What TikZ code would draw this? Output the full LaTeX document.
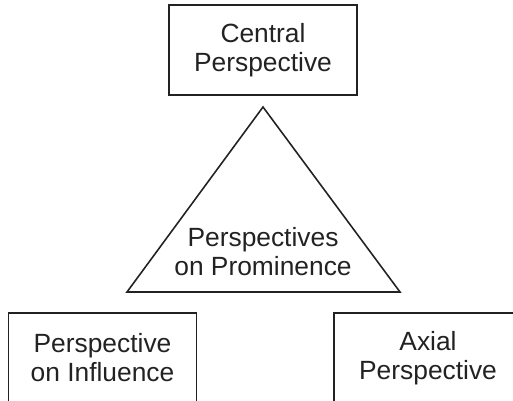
\documentclass[tikz,border=0pt]{standalone}
\usepackage{fontspec}
\setmainfont{Liberation Sans}
\usetikzlibrary{positioning}
\definecolor{PerspInk}{HTML}{222222}

\begin{document}
\begin{tikzpicture}[
  perspbox/.style={draw=PerspInk,line width=.9pt,minimum width=3.76cm,minimum height=1.8cm,align=center,font=\fontsize{15}{16.5}\selectfont,text=PerspInk},
  persplabel/.style={align=center,font=\fontsize{15}{16.5}\selectfont,text=PerspInk}]
  \clip (0,0) rectangle (10.26,8);
  \node[perspbox] (central) at (5.26,7.0) {Central\\Perspective};
  \node[perspbox] (influence) at (2.05,.84) {Perspective\\on Influence};
  \node[perspbox] (axial) at (8.56,.84) {Axial\\Perspective};
  % prominence triangle
  \coordinate (apex) at (5.26,5.86);
  \coordinate (baseL) at (2.54,2.16);
  \coordinate (baseR) at (8.0,2.16);
  \draw[PerspInk,line width=.9pt] (apex)--(baseL)--(baseR)--cycle;
  \node[persplabel] (prominence) at (5.26,2.96) {Perspectives\\on Prominence};
\end{tikzpicture}
\end{document}
